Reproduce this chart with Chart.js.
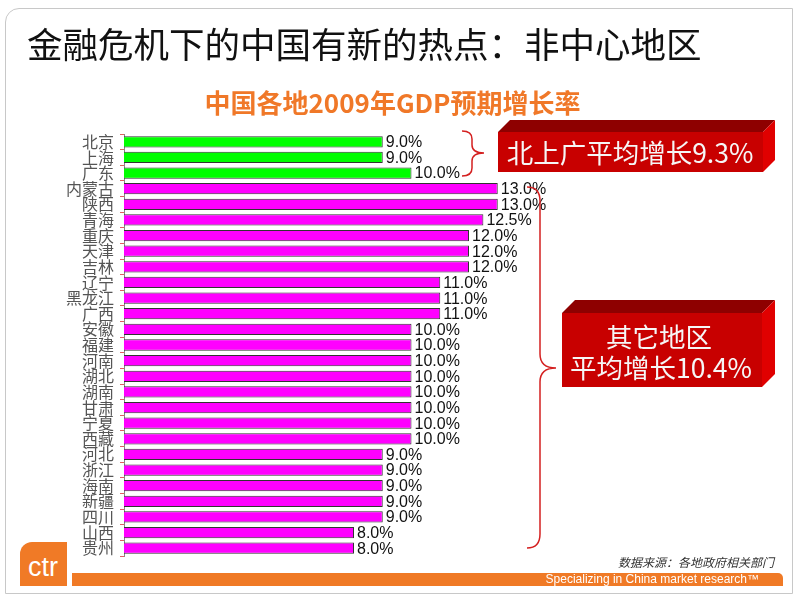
<!DOCTYPE html>
<html>
<head>
<meta charset="utf-8">
<script src="https://cdn.jsdelivr.net/npm/chart.js@4/dist/chart.umd.min.js"></script>
<style>
  body { margin: 0; background: #fff; }
  #wrap { position: relative; width: 800px; height: 600px; overflow: hidden; font-family: "Noto Sans CJK SC", sans-serif; }
  #frame { position: absolute; left: 5px; top: 8px; width: 788px; height: 586px; border: 1px solid #c8c8c8; border-radius: 14px 0 0 0; box-sizing: border-box; }
  #title { position: absolute; left: 27px; top: 17px; font-size: 35.5px; color: #111; white-space: nowrap; }
  #subtitle { position: absolute; left: 0; width: 785px; top: 83px; text-align: center; font-size: 26px; font-weight: bold; color: #f07828; white-space: nowrap; }
  #source { position: absolute; right: 26px; top: 553px; font-size: 12px; font-style: italic; color: #333; }
  #band { position: absolute; left: 72px; top: 573px; width: 711px; height: 13px; background: #f07a26; border-radius: 0 5px 0 0; }
  #band span { position: absolute; right: 24px; top: 0; font-family: "Liberation Sans Narrow", "Liberation Sans", Arial, sans-serif; font-size: 12px; line-height: 13px; color: #fff; }
  #logo { position: absolute; left: 20px; top: 542px; width: 47px; height: 44px; background: #f07a26; border-radius: 12px 0 0 0; overflow: hidden; }
  #logo span { position: absolute; left: 8px; top: 10px; font-family: "Liberation Sans", Arial, sans-serif; font-size: 27px; color: #fff; }
  canvas { position: absolute; left: 0; top: 0; }
</style>
</head>
<body>
<div id="wrap">
  <div id="frame"></div>
  <canvas id="gdpChart" width="800" height="600"></canvas>
  <div id="title">金融危机下的中国有新的热点：非中心地区</div>
  <div id="subtitle">中国各地2009年GDP预期增长率</div>
  <div id="source">数据来源：各地政府相关部门</div>
  <div id="logo"><span>ctr</span></div>
  <div id="band"><span>Specializing in China market research™</span></div>
</div>
<script>
// Provinces and expected 2009 GDP growth (%)
const provinces = ['北京', '上海', '广东', '内蒙古', '陕西', '青海', '重庆', '天津', '吉林', '辽宁', '黑龙江', '广西',
  '安徽', '福建', '河南', '湖北', '湖南', '甘肃', '宁夏', '西藏', '河北', '浙江', '海南', '新疆', '四川', '山西', '贵州'];
const growth = [9.0, 9.0, 10.0, 13.0, 13.0, 12.5, 12.0, 12.0, 12.0, 11.0, 11.0, 11.0,
  10.0, 10.0, 10.0, 10.0, 10.0, 10.0, 10.0, 10.0, 9.0, 9.0, 9.0, 9.0, 9.0, 8.0, 8.0];
const centralCount = 3; // 北京、上海、广东
const callouts = ['北上广平均增长9.3%', '其它地区', '平均增长10.4%'];

const barColors = growth.map((v, i) => i < centralCount ? '#00ff00' : '#ff00ff');

// value labels at bar ends
const valueLabels = {
  id: 'valueLabels',
  afterDatasetsDraw(chart) {
    const ctx = chart.ctx;
    const meta = chart.getDatasetMeta(0);
    ctx.save();
    ctx.font = '16px "Liberation Sans", Arial, sans-serif';
    ctx.fillStyle = '#111';
    ctx.textBaseline = 'middle';
    meta.data.forEach((bar, i) => {
      ctx.fillText(growth[i].toFixed(1) + '%', bar.x + 3, bar.y + 1);
    });
    ctx.restore();
  }
};

function box3d(ctx, x, y, w, h, d) {
  // top face
  ctx.fillStyle = '#8e0000';
  ctx.beginPath();
  ctx.moveTo(x, y); ctx.lineTo(x + d, y - d); ctx.lineTo(x + w + d, y - d); ctx.lineTo(x + w, y);
  ctx.closePath(); ctx.fill();
  // side face
  ctx.fillStyle = '#e00000';
  ctx.beginPath();
  ctx.moveTo(x + w, y); ctx.lineTo(x + w + d, y - d); ctx.lineTo(x + w + d, y + h - d); ctx.lineTo(x + w, y + h);
  ctx.closePath(); ctx.fill();
  // front
  ctx.fillStyle = '#c80000';
  ctx.fillRect(x, y, w, h);
}

function brace(ctx, x0, yTop, yBot, xMid, xTip, yTip, r) {
  ctx.beginPath();
  ctx.moveTo(x0, yTop);
  ctx.quadraticCurveTo(xMid, yTop, xMid, yTop + r);
  ctx.lineTo(xMid, yTip - r);
  ctx.quadraticCurveTo(xMid, yTip, xTip, yTip);
  ctx.quadraticCurveTo(xMid, yTip, xMid, yTip + r);
  ctx.lineTo(xMid, yBot - r);
  ctx.quadraticCurveTo(xMid, yBot, x0, yBot);
  ctx.stroke();
}

const annotations = {
  id: 'annotations',
  afterDraw(chart) {
    const ctx = chart.ctx;
    ctx.save();
    ctx.strokeStyle = '#d42020';
    ctx.lineWidth = 1.5;
    brace(ctx, 462, 131, 176, 472, 484, 153, 8);
    brace(ctx, 527, 187, 548, 540, 556, 368, 14);

    box3d(ctx, 498, 132, 265, 40, 12);
    box3d(ctx, 562, 313, 200, 74, 13);

    ctx.fillStyle = '#f6f6f6';
    ctx.textAlign = 'center';
    ctx.textBaseline = 'middle';
    ctx.font = '26.5px "Noto Sans CJK SC", sans-serif';
    ctx.fillText(callouts[0], 630, 153);
    ctx.fillText(callouts[1], 659, 337);
    ctx.fillText(callouts[2], 661, 368);
    ctx.restore();
  }
};

new Chart(document.getElementById('gdpChart'), {
  type: 'bar',
  data: {
    labels: provinces,
    datasets: [{
      data: growth,
      backgroundColor: barColors,
      borderColor: '#333',
      borderWidth: 1,
      barPercentage: 0.72,
      categoryPercentage: 1
    }]
  },
  options: {
    indexAxis: 'y',
    responsive: false,
    animation: false,
    layout: { padding: { top: 134, bottom: 44, right: 101, left: 0 } },
    plugins: { legend: { display: false }, tooltip: { enabled: false } },
    scales: {
      x: { display: false, min: 0, max: 20 },
      y: {
        afterFit(scale) { scale.width = 124; },
        grid: { drawOnChartArea: false, tickLength: 4, color: '#e06060', offset: true },
        border: { color: '#888' },
        ticks: {
          color: '#555',
          padding: 6,
          autoSkip: false,
          font: { family: '"Noto Sans CJK SC", sans-serif', size: 16 }
        }
      }
    }
  },
  plugins: [valueLabels, annotations]
});
</script>
</body>
</html>
